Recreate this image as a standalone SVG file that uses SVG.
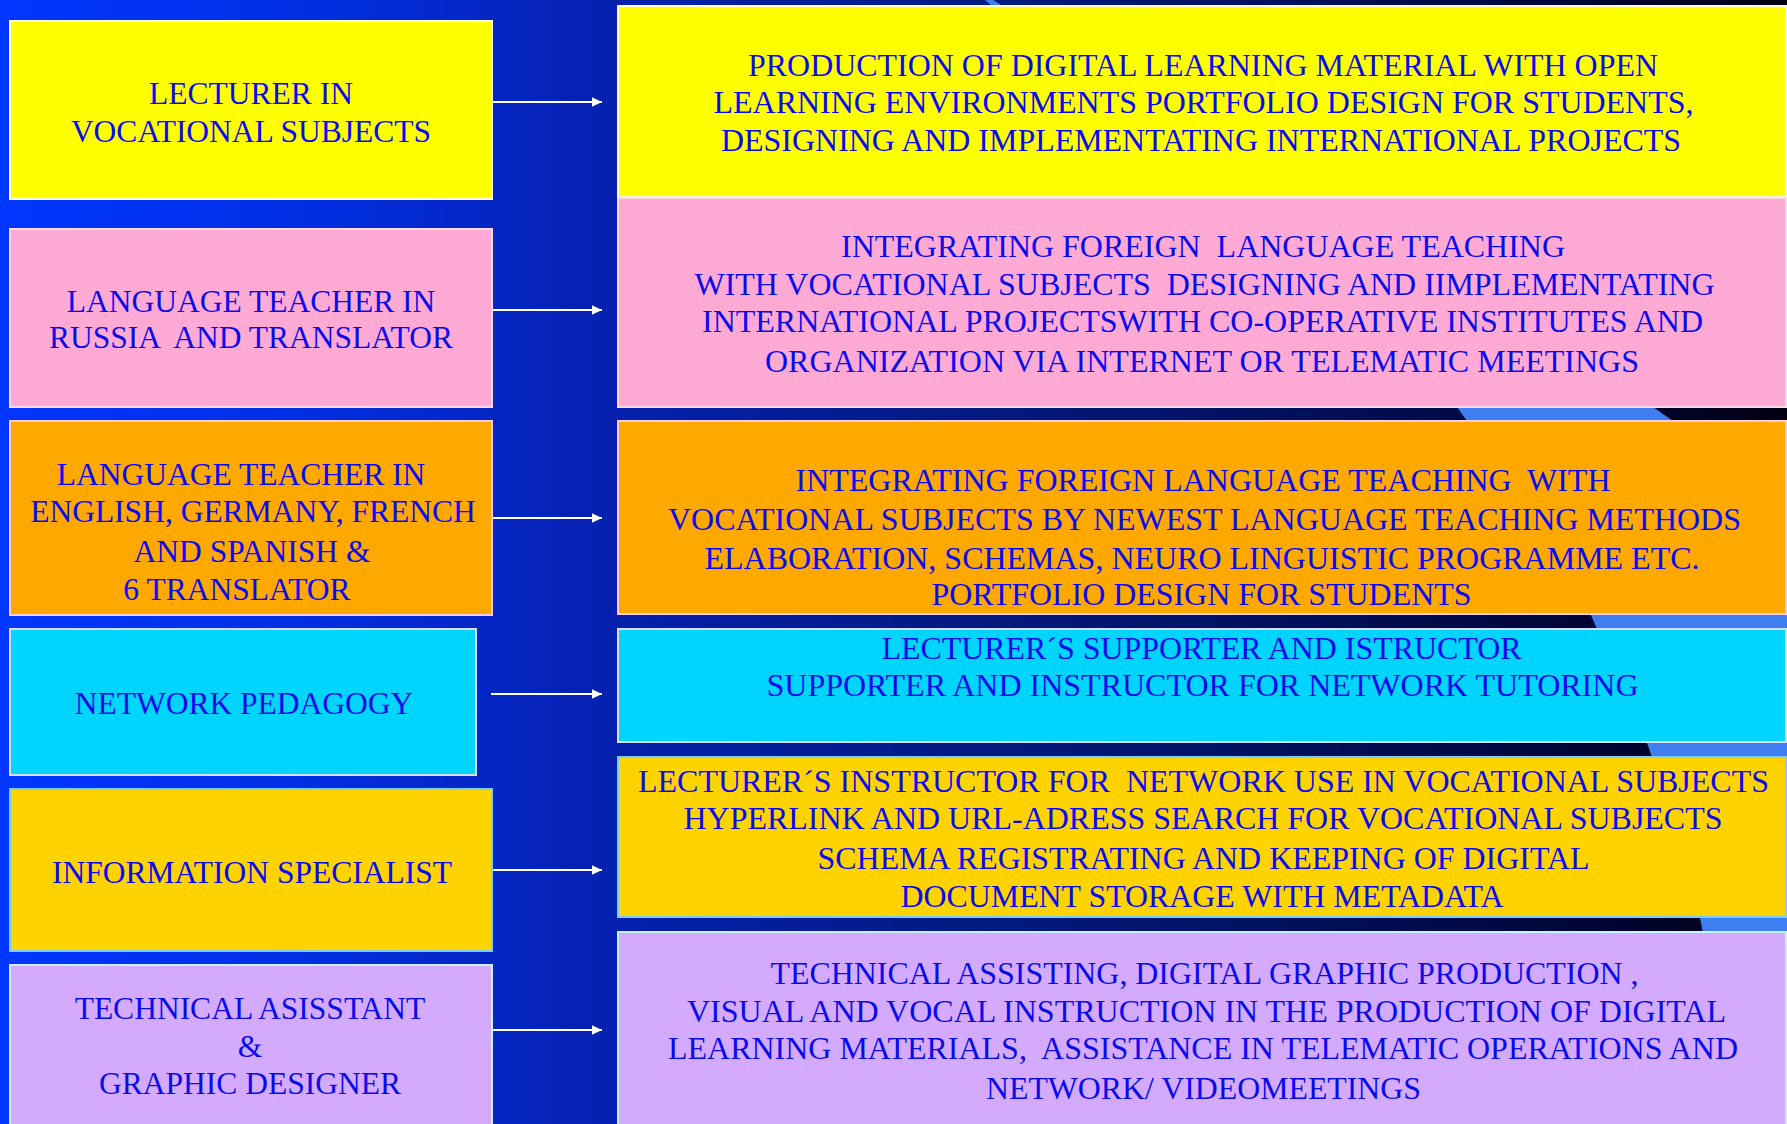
<svg xmlns="http://www.w3.org/2000/svg" width="1787" height="1124" viewBox="0 0 1787 1124">
<defs>
<linearGradient id="bg" x1="0" y1="0" x2="1787" y2="0" gradientUnits="userSpaceOnUse">
<stop offset="0" stop-color="#0036ff"/>
<stop offset="0.15" stop-color="#0030e8"/>
<stop offset="0.30" stop-color="#0524bc"/>
<stop offset="0.35" stop-color="#0520ac"/>
<stop offset="0.55" stop-color="#031a80"/>
<stop offset="0.73" stop-color="#00105a"/>
<stop offset="0.88" stop-color="#000638"/>
<stop offset="1" stop-color="#000012"/>
</linearGradient>
<marker id="ah" markerUnits="userSpaceOnUse" markerWidth="12" markerHeight="12" viewBox="0 0 12 12" refX="10" refY="6" orient="auto">
<path d="M0,1.3 L10,6 L0,10.7 Z" fill="#ffffff"/>
</marker>
<style>
.lt{font-family:"Liberation Serif","Times New Roman",serif;font-size:31.5px;fill:#0a0aee;text-anchor:middle}
.rt{font-family:"Liberation Serif","Times New Roman",serif;font-size:31px;fill:#0a0aee;white-space:pre}
.box{stroke-width:2}
.conn{stroke:#ffffff;stroke-width:2.2;fill:none;marker-end:url(#ah)}
</style>
</defs>
<g id="background">
<rect x="0" y="0" width="1787" height="1124" fill="url(#bg)"/>
<polygon points="985,0 1457,407 1467,421 1591,615 1597,629 1647,743 1652,757 1700,918 1703,933 1720,1124 1787,1124 1787,480 1673,421 1653,407 993,0" fill="#3f7ef0"/>
</g>
<g id="connectors">
<line class="conn" x1="492" y1="102" x2="602" y2="102"/>
<line class="conn" x1="492" y1="310" x2="602" y2="310"/>
<line class="conn" x1="492" y1="518" x2="602" y2="518"/>
<line class="conn" x1="491" y1="694" x2="602" y2="694"/>
<line class="conn" x1="492" y1="870" x2="602" y2="870"/>
<line class="conn" x1="492" y1="1030" x2="602" y2="1030"/>
</g>
<g id="role-lecturer">
<rect class="box" x="10" y="21" width="482" height="178" fill="#ffff00" stroke="#fffbe8"/>
<text class="lt" x="251" y="104">LECTURER IN</text>
<text class="lt" x="251" y="142">VOCATIONAL SUBJECTS</text>
</g>
<g id="role-russian">
<rect class="box" x="10" y="229" width="482" height="178" fill="#ffaad4" stroke="#ffd8ea"/>
<text class="lt" x="251" y="312">LANGUAGE TEACHER IN</text>
<text class="lt" x="251" y="348" style="white-space:pre">RUSSIA  AND TRANSLATOR</text>
</g>
<g id="role-languages">
<rect class="box" x="10" y="421" width="482" height="194" fill="#ffa800" stroke="#ffcce6"/>
<text class="lt" x="241" y="485">LANGUAGE TEACHER IN</text>
<text class="lt" x="253" y="522">ENGLISH, GERMANY, FRENCH</text>
<text class="lt" x="252" y="562">AND SPANISH &amp;</text>
<text class="lt" x="237" y="600">6 TRANSLATOR</text>
</g>
<g id="role-network">
<rect class="box" x="10" y="629" width="466" height="146" fill="#00d4ff" stroke="#dcdcff"/>
<text class="lt" x="244" y="714">NETWORK PEDAGOGY</text>
</g>
<g id="role-information">
<rect class="box" x="10" y="789" width="482" height="162" fill="#ffd300" stroke="#78ccff"/>
<text class="lt" x="252" y="883">INFORMATION SPECIALIST</text>
</g>
<g id="role-technical">
<rect class="box" x="10" y="965" width="482" height="170" fill="#d4aaff" stroke="#c8f0ff"/>
<text class="lt" x="250" y="1019">TECHNICAL ASISSTANT</text>
<text class="lt" x="250" y="1057">&amp;</text>
<text class="lt" x="250" y="1094">GRAPHIC DESIGNER</text>
</g>
<g id="task-lecturer">
<rect class="box" x="618" y="6" width="1168" height="191" fill="#ffff00" stroke="#fffbe8"/>
<text class="rt" x="748" y="76" textLength="910" lengthAdjust="spacingAndGlyphs">PRODUCTION OF DIGITAL LEARNING MATERIAL WITH OPEN</text>
<text class="rt" x="713.5" y="113" textLength="980" lengthAdjust="spacingAndGlyphs">LEARNING ENVIRONMENTS PORTFOLIO DESIGN FOR STUDENTS,</text>
<text class="rt" x="721" y="150.5" textLength="960" lengthAdjust="spacingAndGlyphs">DESIGNING AND IMPLEMENTATING INTERNATIONAL PROJECTS</text>
</g>
<g id="task-russian">
<rect class="box" x="618" y="198" width="1168" height="209" fill="#ffaad4" stroke="#ffd8ea"/>
<text class="rt" x="841" y="256.5" textLength="724" lengthAdjust="spacingAndGlyphs">INTEGRATING FOREIGN  LANGUAGE TEACHING</text>
<text class="rt" x="694.5" y="295" textLength="1020" lengthAdjust="spacingAndGlyphs">WITH VOCATIONAL SUBJECTS  DESIGNING AND IIMPLEMENTATING</text>
<text class="rt" x="702" y="331.5" textLength="1001" lengthAdjust="spacingAndGlyphs">INTERNATIONAL PROJECTSWITH CO-OPERATIVE INSTITUTES AND</text>
<text class="rt" x="765" y="371.5" textLength="874" lengthAdjust="spacingAndGlyphs">ORGANIZATION VIA INTERNET OR TELEMATIC MEETINGS</text>
</g>
<g id="task-languages">
<rect class="box" x="618" y="421" width="1168" height="193" fill="#ffa800" stroke="#ffcce6"/>
<text class="rt" x="795.5" y="490.5" textLength="815" lengthAdjust="spacingAndGlyphs">INTEGRATING FOREIGN LANGUAGE TEACHING  WITH</text>
<text class="rt" x="668" y="529.5" textLength="1073" lengthAdjust="spacingAndGlyphs">VOCATIONAL SUBJECTS BY NEWEST LANGUAGE TEACHING METHODS</text>
<text class="rt" x="704.5" y="568.5" textLength="995" lengthAdjust="spacingAndGlyphs">ELABORATION, SCHEMAS, NEURO LINGUISTIC PROGRAMME ETC.</text>
<text class="rt" x="931.5" y="605" textLength="540" lengthAdjust="spacingAndGlyphs">PORTFOLIO DESIGN FOR STUDENTS</text>
</g>
<g id="task-network">
<rect class="box" x="618" y="629" width="1168" height="113" fill="#00d4ff" stroke="#dcdcff"/>
<text class="rt" x="881.5" y="658.5" textLength="640" lengthAdjust="spacingAndGlyphs">LECTURER´S SUPPORTER AND ISTRUCTOR</text>
<text class="rt" x="766.5" y="696" textLength="872" lengthAdjust="spacingAndGlyphs">SUPPORTER AND INSTRUCTOR FOR NETWORK TUTORING</text>
</g>
<g id="task-information">
<rect class="box" x="618" y="757" width="1168" height="160" fill="#ffd300" stroke="#78ccff"/>
<text class="rt" x="638" y="791.5" textLength="1131" lengthAdjust="spacingAndGlyphs">LECTURER´S INSTRUCTOR FOR  NETWORK USE IN VOCATIONAL SUBJECTS</text>
<text class="rt" x="683.5" y="828.5" textLength="1039" lengthAdjust="spacingAndGlyphs">HYPERLINK AND URL-ADRESS SEARCH FOR VOCATIONAL SUBJECTS</text>
<text class="rt" x="817.5" y="868.5" textLength="772" lengthAdjust="spacingAndGlyphs">SCHEMA REGISTRATING AND KEEPING OF DIGITAL</text>
<text class="rt" x="900.5" y="906.5" textLength="603" lengthAdjust="spacingAndGlyphs">DOCUMENT STORAGE WITH METADATA</text>
</g>
<g id="task-technical">
<rect class="box" x="618" y="932" width="1168" height="200" fill="#d4aaff" stroke="#c8f0ff"/>
<text class="rt" x="770.5" y="984" textLength="868" lengthAdjust="spacingAndGlyphs">TECHNICAL ASSISTING, DIGITAL GRAPHIC PRODUCTION ,</text>
<text class="rt" x="687" y="1021.5" textLength="1039" lengthAdjust="spacingAndGlyphs">VISUAL AND VOCAL INSTRUCTION IN THE PRODUCTION OF DIGITAL</text>
<text class="rt" x="668" y="1058.5" textLength="1070" lengthAdjust="spacingAndGlyphs">LEARNING MATERIALS,  ASSISTANCE IN TELEMATIC OPERATIONS AND</text>
<text class="rt" x="986" y="1098.5" textLength="435" lengthAdjust="spacingAndGlyphs">NETWORK/ VIDEOMEETINGS</text>
</g>
</svg>
